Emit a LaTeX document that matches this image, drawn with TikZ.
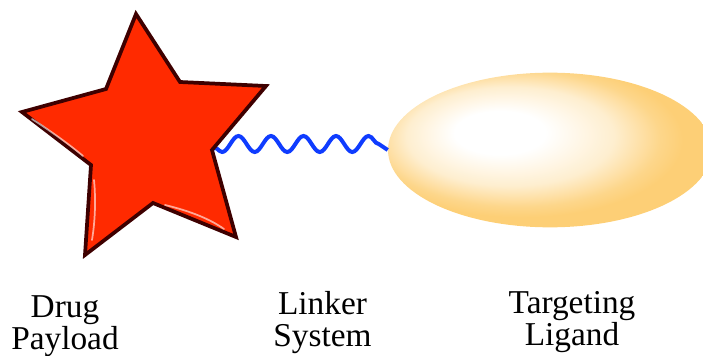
\documentclass[tikz,border=0pt]{standalone}
\usepackage{fontspec}
\setmainfont{Liberation Serif}
\usepackage{tikz}
\usetikzlibrary{shapes.geometric, decorations.pathmorphing, positioning}

\definecolor{payloadred}{RGB}{255,42,0}
\definecolor{payloadrim}{RGB}{62,0,0}
\definecolor{linkerblue}{RGB}{15,60,255}
\definecolor{ligandgold}{RGB}{253,207,118}

% soft glow for the ligand, brightest towards the upper left
\pgfdeclareradialshading{ligandglow}{\pgfpoint{-9bp}{6.5bp}}{%
	color(0bp)=(white); color(7bp)=(white);
	color(16bp)=(ligandgold!35!white); color(22bp)=(ligandgold!85!white);
	color(25bp)=(ligandgold); color(50bp)=(ligandgold)}

\begin{document}
\begin{tikzpicture}[
			x=0.75pt, y=-0.75pt,
			% Style for the drug (star)
			payload/.style={
				draw=payloadrim,
				fill=payloadred,
				line width=2.8pt,
				line join=miter
			},
			% Glossy streaks on the star
			gloss/.style={
				draw=white,
				draw opacity=0.6,
				line width=1.3pt,
				line cap=round
			},
			% Style for the linker (wavy line)
			linker/.style={
				draw=linkerblue,
				line width=3pt,
				decorate,
				decoration={snake, segment length=24.4pt, amplitude=-6pt, raise=4.5pt}
			},
			% Style for the targeting ligand (ellipse)
			ligand/.style={
				ellipse,
				draw=none,
				shading=ligandglow,
				minimum width=243pt,
				minimum height=116pt,
				inner sep=0pt
			},
			% Style for the captions
			caption/.style={
				align=center,
				anchor=base,
				inner sep=0pt,
				font=\fontsize{25}{24}\selectfont
			}
			]
			
			\useasboundingbox (0,0) rectangle (703,356);
			
			% --- SHAPES ---
			
			% Targeting ligand
			\node[ligand] (ligand) at (550,150) {};
			
			% Drug payload: star corners, clockwise from the top
			\coordinate (top) at (136,14);
			\coordinate (payload) at (212,150);
			
			% Linker between payload and ligand
			\draw[linker] (payload) -- (ligand.west);
			
			\draw[payload] (top) -- (180,82) -- (266,86) -- (payload) -- (236,237)
				-- (153,203) -- (85,255) -- (91,165) -- (22,112) -- (106,89) -- cycle;
			
			% Highlights
			\draw[gloss] (32,119) .. controls (52,132) and (70,145) .. (83,156);
			\draw[gloss] (94,180) .. controls (96,200) and (95,222) .. (92,240);
			\draw[gloss] (165,205) .. controls (190,211) and (210,219) .. (224,229);
			
			% --- CAPTIONS ---
			% (base sits on the last line)
			\node[caption] (drug) at (65,349) {Drug\\Payload};
			\node[caption] (linkertext) at (322.5,346.5) {Linker\\System};
			\node[caption] (ligandtext) at (572,345) {Targeting\\Ligand};
			
		\end{tikzpicture}
\end{document}
